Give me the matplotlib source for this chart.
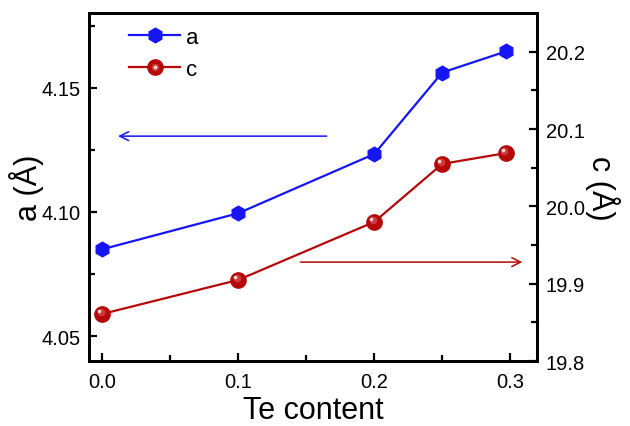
import numpy as np
import matplotlib
matplotlib.use("Agg")
import matplotlib.pyplot as plt
import matplotlib.transforms as mtransforms
from matplotlib.legend_handler import HandlerTuple

plt.rcParams['font.family'] = ['Liberation Sans', 'DejaVu Sans']

# lattice parameters vs Te content
te = [0.0, 0.1, 0.2, 0.25, 0.297]
a_val = [4.085, 4.0995, 4.1233, 4.1561, 4.1646]
c_val = [19.861, 19.905, 19.980, 20.055, 20.069]

blue = '#1515f5'
red = '#b50808'

fig, ax = plt.subplots(figsize=(6.3, 4.27), dpi=100)
fig.subplots_adjust(left=0.141, right=0.853, top=0.967, bottom=0.152)
ax2 = ax.twinx()

la, = ax.plot(te, a_val, color=blue, lw=1.6, marker='h', ms=10.5, mfc=blue, mec=blue, zorder=3)
lc, = ax2.plot(te, c_val, color=red, lw=1.6, marker='o', ms=11, mfc=red, mec=red, zorder=3)
# shading on the red balls, shifted up-left
mid = ax2.transData + mtransforms.ScaledTranslation(-1.2 / 72, 1.3 / 72, fig.dpi_scale_trans)
top = ax2.transData + mtransforms.ScaledTranslation(-2.2 / 72, 2.4 / 72, fig.dpi_scale_trans)
hm, = ax2.plot(te, c_val, ls='none', marker='o', ms=5.5, mfc='#d03a3a', mec='none',
               transform=mid, zorder=4)
hl, = ax2.plot(te, c_val, ls='none', marker='o', ms=2.6, mfc='#f8dcdc', mec='none',
               transform=top, zorder=5)

ax.set_xlim(-0.01, 0.32)
ax.set_ylim(4.04, 4.18)
ax2.set_ylim(19.8, 20.25)

ax.set_xticks([0.0, 0.1, 0.2, 0.3])
ax.set_xticks([0.05, 0.15, 0.25], minor=True)
ax.set_xticklabels(['0.0', '0.1', '0.2', '0.3'])
ax.set_yticks([4.05, 4.10, 4.15])
ax.set_yticks([4.075, 4.125, 4.175], minor=True)
ax.set_yticklabels(['4.05', '4.10', '4.15'])
ax2.set_yticks([19.8, 19.9, 20.0, 20.1, 20.2])
ax2.set_yticks([19.85, 19.95, 20.05, 20.15], minor=True)
ax2.set_yticklabels(['19.8', '19.9', '20.0', '20.1', '20.2'])

for a in (ax, ax2):
    a.tick_params(which='major', direction='in', length=6, width=1.6, labelsize=14.5, pad=6)
    a.tick_params(which='minor', direction='in', length=4, width=1.6)
    for s in a.spines.values():
        s.set_linewidth(2)
ax.tick_params(axis='x', pad=8)

ax.set_xlabel('Te content', fontsize=22, labelpad=3)
ax.set_ylabel('a (Å)', fontsize=22, labelpad=-2)
ax2.set_ylabel('c (Å)', fontsize=22, labelpad=0, rotation=270, va='bottom')

# arrows pointing to the matching axis
ax.annotate('', xy=(0.0095, 4.1305), xytext=(0.167, 4.1305),
            arrowprops=dict(arrowstyle='->', color=blue, lw=1.1, mutation_scale=16))
ax2.annotate('', xy=(0.311, 19.928), xytext=(0.1436, 19.928),
             arrowprops=dict(arrowstyle='->', color=red, lw=1.1, mutation_scale=16))

ax.legend([la, (lc, hm, hl)], ['a', 'c'], loc='upper left', bbox_to_anchor=(0.045, 1.018),
          frameon=False, fontsize=16, handlelength=2.3, handletextpad=0.25,
          labelspacing=0.5, handler_map={tuple: HandlerTuple(ndivide=1)})

fig.savefig('out.png', dpi=100)
